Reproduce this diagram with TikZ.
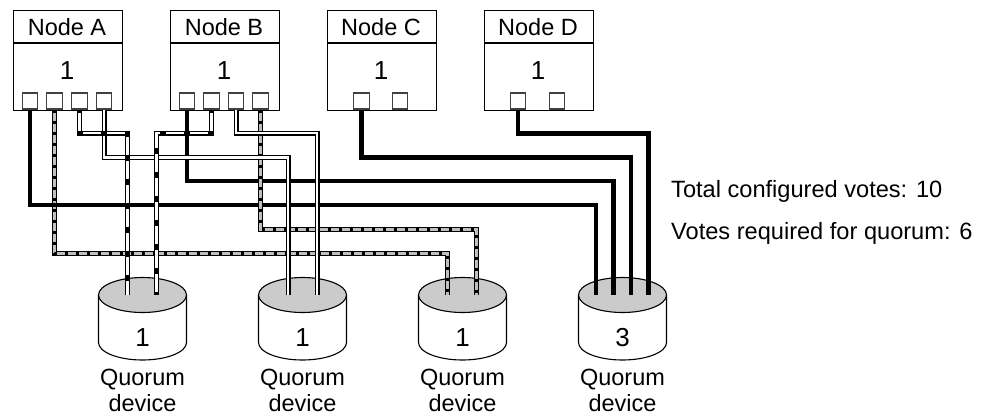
\documentclass[tikz,border=0pt]{standalone}
\usepackage{fontspec}
\setmainfont{Liberation Sans}
\definecolor{diskgray}{HTML}{CBCBCB}
\definecolor{wiregray}{HTML}{C0C0C0}
\tikzset{
  hostbox/.style={draw=black,line width=1.1pt,inner sep=0pt,minimum width=109pt,minimum height=100pt,anchor=north west},
  portbox/.style={draw=black!75,fill=white,line width=1.1pt,inner sep=0pt,minimum width=15.5pt,minimum height=16pt,anchor=south},
  lab/.style={inner sep=0pt,anchor=base,font=\fontsize{23.5}{26}\selectfont},
  num/.style={inner sep=0pt,anchor=base,font=\fontsize{26}{28}\selectfont},
  side/.style={inner sep=0pt,anchor=base west,font=\fontsize{23.6}{26}\selectfont},
  thickwire/.style={draw=black,line width=4.4pt},
  doublewire/.style={draw=black,line width=1.1pt,double=white,double distance=2.8pt},
  graywire/.style={draw=black,line width=5pt,
    postaction={draw=wiregray,line width=2.9pt},
    postaction={draw=black,line width=2.9pt,dash pattern=on 3pt off 8pt}},
  mixwire/.style={draw=black,line width=5pt,
    postaction={draw=white,line width=2.9pt},
    postaction={draw=black,line width=2.9pt,dash pattern=on 6pt off 18pt,dash phase=3pt}},
}
\newcommand{\hostnode}[3]{%
  \node[hostbox] (#1) at (#2,9.5) {};
  \draw[line width=1.1pt] (#1.north west |- 0,43) -- (#1.north east |- 0,43);
  \node[lab] (#1t) at (#2+54.5,35) {#3};
  \node[num] (#1n) at (#2+54.5,79) {1};
}
\newcommand{\diskshape}[3]{%
  \coordinate (#1) at (#2,295);
  \draw[line width=1.1pt,fill=white] (#2-44,295) -- (#2-44,342.5) arc[start angle=180,end angle=360,x radius=44,y radius=-17.5] -- (#2+44,295) -- cycle;
  \draw[line width=1.1pt,fill=diskgray] (#1) ellipse[x radius=44,y radius=17.5];
  \node[num] (#1n) at (#2,346.7) {#3};
  \node[lab] (#1l) at (#2,385) {Quorum};
  \node[lab] (#1m) at (#2,411.5) {device};
}
\begin{document}
\begin{tikzpicture}[x=1pt,y=-1pt]
\useasboundingbox (0,0) rectangle (981,415);
\hostnode{A}{12.5}{Node A}
\hostnode{B}{169.5}{Node B}
\hostnode{C}{326.5}{Node C}
\hostnode{D}{483.5}{Node D}
\foreach \n/\x in {a1/30,a2/54.5,a3/79.5,a4/104,b1/187,b2/211.5,b3/236,b4/260.5,c1/361.5,c2/400,d1/518,d2/557}
  \node[portbox] (\n) at (\x,109.5) {};
\diskshape{q1}{142.5}{1}
\diskshape{q2}{302.5}{1}
\diskshape{q3}{462.5}{1}
\diskshape{q4}{622.5}{3}
\coordinate (q1a) at (127.5,295);
\coordinate (q1b) at (156.5,295);
\coordinate (q2a) at (288,295);
\coordinate (q2b) at (317,295);
\coordinate (q3a) at (447.5,295);
\coordinate (q3b) at (476.5,295);
\coordinate (q4a) at (596,295);
\coordinate (q4b) at (613.5,295);
\coordinate (q4c) at (631,295);
\coordinate (q4d) at (648.5,295);
% gray pair, A under the black wires
\draw[graywire] (a2.south) |- (q3a |- 0,253.5) -- (q3a);
% black wires
\draw[thickwire] (a1.south) |- (q4a |- 0,205) -- (q4a);
\draw[thickwire] (b1.south) |- (q4b |- 0,181) -- (q4b);
\draw[thickwire] (c1.south) |- (q4c |- 0,157.5) -- (q4c);
\draw[thickwire] (d1.south) |- (q4d |- 0,133.5) -- (q4d);
\draw[graywire] (b4.south) |- (q3b |- 0,229.5) -- (q3b);
% double white wires
\draw[doublewire] (a4.south) |- (q2a |- 0,157.5) -- (q2a);
\draw[doublewire] (b3.south) |- (q2b |- 0,133) -- (q2b);
% mixed wires
\draw[mixwire] (a3.south) |- (q1a |- 0,133) -- (q1a);
\draw[mixwire] (b2.south) |- (q1b |- 0,133) -- (q1b);
\node[side] (tv) at (671,197) {Total configured votes: 10};
\node[side] (vr) at (671,239) {Votes required for quorum: 6};
\end{tikzpicture}
\end{document}
